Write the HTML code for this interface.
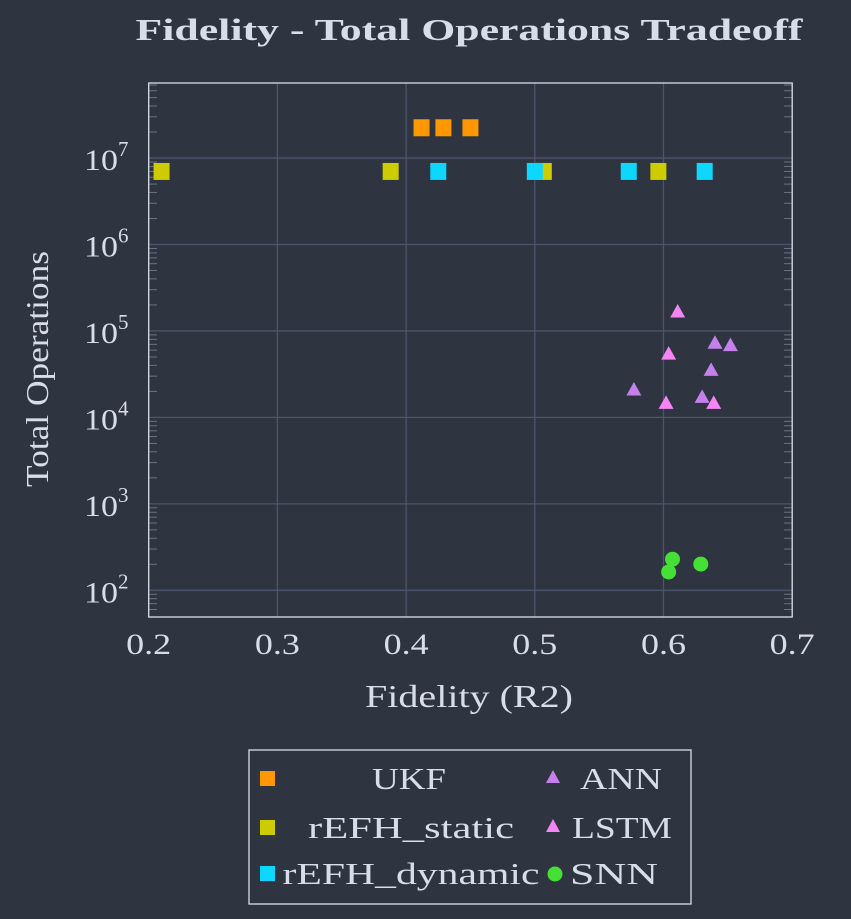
<!DOCTYPE html>
<html><head><meta charset="utf-8"><style>
html,body{margin:0;padding:0;background:#2e3440;}
svg{display:block;font-family:"Liberation Serif",serif;}
</style></head><body>
<svg id="chart" width="851" height="919" xmlns="http://www.w3.org/2000/svg">
<rect width="851" height="919" fill="#2e3440"/>
<text x="469" y="40" text-anchor="middle" font-size="31" font-weight="bold" fill="#d8dee9" textLength="667" lengthAdjust="spacingAndGlyphs">Fidelity - Total Operations Tradeoff</text>
<g id="grid"></g>
<g id="ticks"></g>
<g id="marks"></g>
<rect x="148.7" y="83" width="643.5" height="534" fill="none" stroke="#d8dee9" stroke-width="1.3"/>
<text x="469" y="707" text-anchor="middle" font-size="32" fill="#d8dee9" textLength="208" lengthAdjust="spacingAndGlyphs">Fidelity (R2)</text>
<text transform="translate(48,369) rotate(-90)" text-anchor="middle" font-size="32" fill="#d8dee9" textLength="236" lengthAdjust="spacingAndGlyphs">Total Operations</text>
<g>
<rect x="249" y="750" width="442" height="154" fill="#2e3440" stroke="#d8dee9" stroke-width="1.3"/>
<rect x="260" y="771" width="15" height="15" fill="#ff9800"/>
<text x="409" y="789" text-anchor="middle" font-size="31" fill="#d8dee9" textLength="74" lengthAdjust="spacingAndGlyphs">UKF</text>
<rect x="260" y="820" width="15" height="15" fill="#cccc00"/>
<text x="411" y="838" text-anchor="middle" font-size="31" fill="#d8dee9" textLength="206" lengthAdjust="spacingAndGlyphs">rEFH_static</text>
<rect x="260" y="866" width="15" height="15" fill="#0dd6ff"/>
<text x="411" y="884" text-anchor="middle" font-size="31" fill="#d8dee9" textLength="257" lengthAdjust="spacingAndGlyphs">rEFH_dynamic</text>
<polygon points="553,770 546,783 560,783" fill="#c680ec"/>
<text x="580" y="789" font-size="31" fill="#d8dee9" textLength="82" lengthAdjust="spacingAndGlyphs">ANN</text>
<polygon points="553,819 546,832 560,832" fill="#f585f5"/>
<text x="572" y="838" font-size="31" fill="#d8dee9" textLength="100" lengthAdjust="spacingAndGlyphs">LSTM</text>
<circle cx="555" cy="874" r="7.5" fill="#44e036"/>
<text x="570" y="884" font-size="31" fill="#d8dee9" textLength="88" lengthAdjust="spacingAndGlyphs">SNN</text>
</g>
</svg>
<script>
const xTicks=[0.2,0.3,0.4,0.5,0.6,0.7];
const yTickExps=[2,3,4,5,6,7];
const ukfX=[0.412,0.429,0.450];
const ukfY=[2.24e7,2.24e7,2.24e7];
const staticX=[0.210,0.388,0.507,0.596];
const staticY=[7.0e6,7.0e6,7.0e6,7.0e6];
const dynamicX=[0.425,0.500,0.573,0.632];
const dynamicY=[7.0e6,7.0e6,7.0e6,7.0e6];
const annX=[0.640,0.652,0.637,0.577,0.630];
const annY=[7.3e4,6.85e4,3.55e4,2.1e4,1.73e4];
const lstmX=[0.611,0.604,0.602,0.639];
const lstmY=[1.68e5,5.47e4,1.47e4,1.47e4];
const snnX=[0.607,0.604,0.629];
const snnY=[229,163,201];

const NS="http://www.w3.org/2000/svg";
const X0=148.7,XW=1287,Y2=590.3,DEC=86.45;
function sx(v){return X0+(v-0.2)*XW;}
function sy(v){return Y2-(Math.log10(v)-2)*DEC;}
function mk(tag,attrs,parent){const e=document.createElementNS(NS,tag);for(const k in attrs)e.setAttribute(k,attrs[k]);parent.appendChild(e);return e;}
const grid=document.getElementById('grid'),ticks=document.getElementById('ticks'),marks=document.getElementById('marks');
xTicks.forEach(t=>{
  const x=sx(t);
  const l=mk('line',{x1:x,x2:x,y1:83,y2:617,stroke:'#4c566a','stroke-width':1.3},grid);
  
  
  const tx=mk('text',{x:x,y:654,'text-anchor':'middle','font-size':30,fill:'#d8dee9',textLength:45,lengthAdjust:'spacingAndGlyphs'},ticks);
  tx.textContent=t.toFixed(1);
  
  
});
yTickExps.forEach(e=>{
  const y=sy(Math.pow(10,e));
  const l=mk('line',{x1:148.7,x2:792.2,y1:y,y2:y,stroke:'#4c566a','stroke-width':1.3},grid);
  
  
  const tx=mk('text',{x:84,y:y+12,'font-size':30,fill:'#d8dee9'},ticks);
  const base=mk('tspan',{textLength:34,lengthAdjust:'spacingAndGlyphs'},tx);
  base.textContent='10';
  const sup=mk('tspan',{dy:-14,'font-size':21},tx);
  sup.textContent=String(e);
  
  
});
for(let e=1;e<=7;e++){for(let m=2;m<=9;m++){
  const y=sy(m*Math.pow(10,e));
  if(y<84||y>616)continue;
  const a=mk('line',{x1:148.7,x2:157,y1:y,y2:y,stroke:'#6b7385','stroke-width':1},ticks);
  
  
  const b=mk('line',{x1:784,x2:792.2,y1:y,y2:y,stroke:'#6b7385','stroke-width':1},ticks);
  
  
}}
function squares(xs,ys,color,name){xs.forEach((v,i)=>{
  const r=mk('rect',{x:sx(v)-8,y:sy(ys[i])-8.5,width:16,height:17,fill:color},marks);
  
  
});}
function tris(xs,ys,color,name){xs.forEach((v,i)=>{
  const x=sx(v),y=sy(ys[i]);
  const p=mk('polygon',{points:`${x},${y-7.5} ${x-7.5},${y+6} ${x+7.5},${y+6}`,fill:color},marks);
  
  
});}
squares(ukfX,ukfY,'#ff9800','ukf-point');
squares(staticX,staticY,'#cccc00','refh-static-point');
squares(dynamicX,dynamicY,'#0dd6ff','refh-dynamic-point');
tris(annX,annY,'#c680ec','ann-point');
tris(lstmX,lstmY,'#f585f5','lstm-point');
snnX.forEach((v,i)=>{
  const c=mk('circle',{cx:sx(v),cy:sy(snnY[i]),r:7.5,fill:'#44e036'},marks);
  
  
});
</script>
</body></html>
